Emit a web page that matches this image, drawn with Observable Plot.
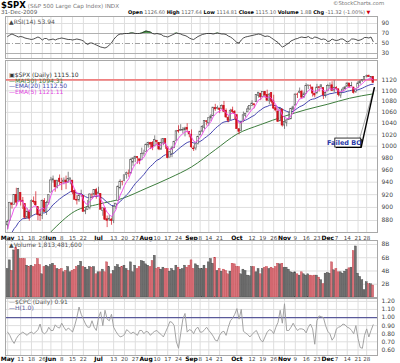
<!DOCTYPE html>
<html><head><meta charset="utf-8">
<script src="https://cdn.jsdelivr.net/npm/d3@7"></script>
<script src="https://cdn.jsdelivr.net/npm/@observablehq/plot@0.6"></script>
<style>
body{margin:0;background:#fff;}
#c{position:relative;width:400px;height:363px;overflow:hidden;font-family:"DejaVu Sans",Verdana,sans-serif;background:#fff;}
#c svg{position:absolute;left:0;}
.t{position:absolute;white-space:nowrap;line-height:1;font-size:6px;color:#555;}
.t b{color:#000;}
</style></head><body><div id="c"></div>
<script>
// ---- data (S&P 500, 1 May 2009 - 31 Dec 2009, daily) ----
const tickDays = [0,6,11,16,20,25,30,35,42,49,54,59,64,69,74,79,85,89,93,98,106,113,118,123,128,133,138,143,148,152,157,162,166];
const tickLabels = ["May","11","18","26","Jun","8","15","22","Jul","13","20","27","Aug","10","17","24","Sep","8","14","21","Oct","12","19","26","Nov","9","16","23","Dec","7","14","21","28"];
const prevClose = 872.81;
const opens = [872.7,879.2,906.1,903.9,919.6,909.0,922.9,910.5,905.4,884.2,
892.8,886.1,909.7,908.6,900.4,888.7,887.0,909.9,892.9,907.0,
923.3,942.9,942.5,932.5,945.7,938.1,940.4,942.7,939.0,943.4,
942.5,925.6,911.9,910.9,919.9,918.1,893.5,896.3,899.5,918.8,
919.9,927.2,920.8,921.2,894.3,898.6,881.9,881.3,881.3,879.6,
900.8,910.1,930.2,940.6,942.1,951.9,953.4,954.1,972.2,978.6,
981.5,977.7,976.0,986.8,990.2,1001.4,1005.4,1005.4,999.8,1008.9,
1005.8,994.0,1005.9,1012.2,998.2,980.6,986.9,996.4,1009.1,1026.6,
1026.6,1027.4,1027.8,1031.6,1025.2,1019.5,996.1,996.1,1003.8,1018.7,
1025.4,1032.2,1043.9,1040.2,1049.0,1053.0,1067.9,1066.6,1067.1,1066.4,
1072.0,1062.6,1049.5,1045.4,1063.7,1061.0,1054.9,1029.7,1026.9,1042.0,
1053.6,1060.0,1065.3,1071.6,1074.9,1078.7,1090.4,1094.7,1088.2,1097.9,
1091.9,1080.9,1095.6,1080.4,1067.5,1061.5,1043.7,1065.4,1036.2,1040.9,
1047.3,1047.3,1064.9,1072.3,1091.9,1096.0,1098.3,1087.6,1094.1,1109.2,
1109.4,1106.4,1094.7,1094.8,1106.8,1106.5,1105.5,1091.1,1098.9,1109.0,
1110.6,1100.6,1105.5,1103.0,1091.1,1098.7,1103.1,1107.8,1114.1,1108.6,
1106.4,1097.9,1105.3,1114.5,1118.8,1121.1,1127.5,1128.6,1125.5,1126.6];
const highs = [880.5,907.9,907.7,920.3,930.2,930.0,922.9,915.6,905.4,898.4,
896.0,911.8,916.4,924.6,900.4,896.7,911.8,913.8,909.5,920.0,
947.8,950.0,942.5,942.5,951.7,946.3,946.9,949.8,956.2,946.3,
942.5,928.0,918.4,921.9,927.1,918.1,898.7,910.9,921.4,922.0,
927.9,930.0,931.9,921.2,898.7,898.6,886.8,887.9,883.6,901.1,
905.8,933.9,943.9,941.9,951.6,956.5,959.8,979.4,979.8,982.5,
982.4,977.8,996.7,993.2,1003.6,1007.1,1006.6,1008.0,1018.0,1010.1,
1005.8,1012.8,1013.1,1012.6,998.2,991.2,999.6,1008.9,1027.6,1035.8,
1037.8,1032.5,1033.3,1039.5,1025.2,1028.5,1000.3,1003.4,1017.6,1026.1,
1036.3,1044.1,1044.7,1049.7,1056.0,1068.8,1074.8,1071.5,1067.3,1073.8,
1080.2,1066.3,1053.5,1065.6,1069.6,1063.4,1054.9,1030.6,1042.6,1060.6,
1058.0,1070.7,1071.5,1081.4,1075.3,1093.2,1096.6,1094.7,1098.1,1098.4,
1101.4,1095.2,1095.8,1091.8,1072.5,1063.3,1066.8,1065.4,1052.2,1046.4,
1061.0,1066.7,1071.5,1094.0,1095.8,1105.4,1101.0,1097.6,1113.7,1110.5,
1111.1,1106.4,1094.7,1112.4,1107.6,1111.2,1105.5,1097.2,1112.3,1115.0,
1117.3,1119.1,1107.9,1103.0,1097.0,1106.2,1108.4,1114.8,1114.1,1116.2,
1106.4,1103.7,1117.7,1118.5,1121.6,1126.5,1130.4,1130.4,1126.6,1127.6];
const lows = [866.1,879.2,897.3,903.9,901.4,909.0,902.2,896.8,882.0,882.5,
878.9,886.1,905.2,901.4,879.6,878.9,881.5,891.9,887.6,903.6,
923.3,938.4,923.9,929.3,934.1,926.4,935.7,927.9,939.0,935.7,
919.7,911.6,903.8,907.9,915.8,893.0,888.9,896.3,896.3,913.0,
916.2,912.9,920.8,896.4,886.4,879.9,869.3,878.5,872.8,875.3,
896.5,910.1,927.5,934.0,940.9,944.9,947.9,953.3,965.9,972.3,
969.4,968.7,976.0,982.9,990.2,996.7,994.3,992.4,999.8,1000.7,
992.4,993.4,1000.8,994.6,978.5,980.6,980.6,996.4,1009.1,1022.5,
1026.2,1021.6,1016.2,1023.1,1014.6,996.3,991.0,992.3,1001.9,1018.7,
1023.0,1028.9,1035.6,1035.0,1043.4,1052.9,1061.8,1064.3,1057.5,1066.4,
1060.4,1049.0,1041.2,1045.4,1057.8,1046.5,1029.4,1019.9,1025.9,1042.0,
1050.0,1060.0,1063.0,1071.6,1066.7,1078.7,1086.4,1081.5,1086.8,1086.2,
1080.8,1074.3,1075.5,1065.2,1060.6,1042.2,1043.7,1033.4,1029.4,1033.9,
1045.2,1047.3,1059.3,1072.3,1085.6,1094.6,1085.0,1085.3,1094.1,1102.2,
1102.7,1088.3,1086.8,1094.8,1097.6,1104.8,1083.7,1086.3,1098.9,1104.0,
1098.7,1096.5,1100.2,1088.6,1085.9,1098.7,1101.3,1107.8,1105.4,1107.9,
1093.9,1095.0,1105.3,1111.4,1116.0,1121.1,1124.7,1126.0,1121.9,1114.8];
const closes = [877.52,907.24,903.80,919.53,907.39,929.23,909.24,908.35,883.92,893.07,
882.88,909.71,908.13,903.47,888.33,887.00,910.33,893.06,906.83,919.14,
942.87,944.74,931.76,942.46,940.09,939.14,942.43,939.15,944.89,946.21,
923.72,911.97,910.71,918.37,921.23,893.04,895.10,900.94,920.26,918.90,
927.23,919.32,923.33,896.42,898.72,881.03,879.56,882.68,879.13,901.05,
905.84,932.68,940.74,940.38,951.13,954.58,954.07,976.29,979.26,982.18,
979.62,975.15,986.75,987.48,1002.63,1005.65,1002.72,997.08,1010.48,1007.10,
994.35,1005.81,1012.73,1004.09,979.73,989.67,996.46,1007.37,1026.13,1025.57,
1028.00,1028.12,1030.98,1028.93,1020.62,998.04,994.75,1003.24,1016.40,1025.39,
1033.37,1044.14,1042.73,1049.34,1052.63,1068.76,1065.49,1068.30,1064.66,1071.66,
1060.87,1050.78,1044.38,1062.98,1060.61,1057.08,1029.85,1025.21,1040.46,1054.72,
1057.58,1065.48,1071.49,1076.19,1073.19,1092.02,1096.56,1087.68,1097.91,1091.06,
1081.40,1092.91,1079.60,1066.95,1063.41,1042.63,1066.11,1036.19,1042.88,1045.41,
1046.50,1066.63,1069.30,1093.08,1093.01,1098.51,1087.24,1093.48,1109.30,1110.32,
1109.80,1094.90,1091.38,1106.24,1105.65,1110.63,1091.49,1095.63,1108.86,1109.24,
1099.92,1105.98,1103.25,1091.94,1095.95,1102.35,1106.41,1114.11,1107.93,1109.18,
1096.08,1102.47,1114.05,1118.02,1120.59,1126.48,1127.78,1126.20,1126.42,1115.10];
const ema5 = [867.2,880.5,888.3,898.7,901.6,910.8,910.3,909.7,901.1,898.4,
893.2,898.7,901.8,902.4,897.7,894.1,899.5,897.4,900.5,906.7,
918.8,927.4,928.9,933.4,935.6,936.8,938.7,938.9,940.9,942.7,
936.4,928.2,922.4,921.1,921.1,911.7,906.2,904.4,909.7,912.8,
917.6,918.2,919.9,912.1,907.6,898.7,892.3,889.1,885.8,890.9,
895.9,908.2,919.0,926.1,934.4,941.1,945.4,955.7,963.6,969.8,
973.1,973.8,978.1,981.2,988.3,994.1,997.0,997.0,1001.5,1003.4,
1000.4,1002.2,1005.7,1005.2,996.7,994.4,995.1,999.2,1008.2,1014.0,
1018.7,1021.8,1024.9,1026.2,1024.3,1015.6,1008.7,1006.9,1010.1,1015.2,
1021.2,1028.8,1033.4,1038.7,1043.3,1051.8,1056.4,1060.4,1061.8,1065.1,
1063.7,1059.4,1054.4,1057.3,1058.4,1058.0,1048.6,1040.8,1040.7,1045.4,
1049.5,1054.8,1060.4,1065.7,1068.2,1076.1,1082.9,1084.5,1089.0,1089.7,
1086.9,1088.9,1085.8,1079.5,1074.1,1063.6,1064.4,1055.0,1051.0,1049.1,
1048.2,1054.3,1059.3,1070.6,1078.1,1084.9,1085.7,1088.3,1095.3,1100.3,
1103.5,1100.6,1097.5,1100.4,1102.2,1105.0,1100.5,1098.9,1102.2,1104.5,
1103.0,1104.0,1103.8,1099.8,1098.5,1099.8,1102.0,1106.0,1106.7,1107.5,
1103.7,1103.3,1106.9,1110.6,1113.9,1118.1,1121.3,1123.0,1124.1,1121.1];
const ema20 = [852.6,857.8,862.2,867.7,871.5,877.0,880.1,882.8,882.9,883.9,
883.8,886.3,888.4,889.8,889.7,889.4,891.4,891.6,893.0,895.5,
900.0,904.3,906.9,910.3,913.1,915.6,918.2,920.2,922.5,924.8,
924.7,923.5,922.3,921.9,921.8,919.1,916.8,915.3,915.8,916.1,
917.1,917.3,917.9,915.9,914.2,911.0,908.0,905.6,903.1,902.9,
903.2,906.0,909.3,912.3,916.0,919.7,923.0,928.0,932.9,937.6,
941.6,944.8,948.8,952.5,957.3,961.9,965.8,968.8,972.8,976.1,
977.8,980.5,983.6,985.5,985.0,985.4,986.5,988.5,992.1,995.3,
998.4,1001.2,1004.0,1006.4,1007.8,1006.9,1005.7,1005.5,1006.5,1008.3,
1010.7,1013.9,1016.6,1019.7,1022.8,1027.2,1030.8,1034.4,1037.3,1040.6,
1042.5,1043.3,1043.4,1045.3,1046.7,1047.7,1046.0,1044.0,1043.7,1044.7,
1045.9,1047.8,1050.1,1052.6,1054.5,1058.1,1061.8,1064.3,1067.5,1069.7,
1070.8,1072.9,1073.6,1073.0,1072.0,1069.2,1068.9,1065.8,1063.6,1061.9,
1060.4,1061.0,1061.8,1064.8,1067.5,1070.4,1072.0,1074.1,1077.4,1080.5,
1083.3,1084.4,1085.1,1087.1,1088.9,1090.9,1091.0,1091.4,1093.1,1094.6,
1095.1,1096.1,1096.8,1096.3,1096.3,1096.9,1097.8,1099.3,1100.1,1101.0,
1100.5,1100.7,1102.0,1103.5,1105.1,1107.1,1109.1,1110.7,1112.2,1112.5];
const sma50Days = [0,10,20,31,42,53,64,75,85,96,106,117,128,138,148,158,169];
const sma50 = [797,828,863,894,905,914,930,947,965,994,1021,1038,1053,1065,1075,1086,1094.3];
const volumesB = [4.3,5.6,4.0,7.1,7.5,7.2,5.8,5.8,5.8,4.8,
4.6,4.8,4.6,4.9,5.8,4.9,3.5,4.6,4.8,4.6,
4.9,5.1,4.8,4.3,4.2,4.3,3.8,4.0,4.6,3.8,
4.0,4.2,4.6,4.8,5.4,4.6,4.5,4.2,4.6,4.5,
4.6,3.5,3.8,3.8,4.2,3.8,5.3,4.6,3.5,4.0,
4.6,4.9,4.5,4.6,4.8,4.3,4.0,5.3,3.8,4.8,
4.3,4.6,5.5,5.4,5.0,4.8,4.6,5.5,6.3,4.3,
4.5,4.2,4.5,4.3,4.3,3.9,4.3,4.0,4.8,4.5,
4.2,4.3,4.8,4.5,4.8,5.6,4.3,5.0,4.8,4.3,
4.3,4.8,4.3,5.3,5.8,5.1,6.0,4.0,4.3,3.9,
4.2,4.0,3.5,3.9,5.1,5.0,4.6,4.6,3.5,4.2,
4.0,3.3,3.2,4.6,4.6,3.8,4.3,3.5,4.3,4.5,
4.6,4.3,4.5,4.3,4.6,5.1,5.0,5.1,4.5,4.5,
4.2,3.8,3.7,3.8,3.5,3.3,3.8,3.5,3.3,3.5,
3.3,3.2,3.3,3.3,3.0,2.6,2.0,3.6,3.7,3.6,
5.3,4.1,4.3,3.8,3.8,3.6,3.9,4.2,4.4,4.5,
7.0,7.7,3.6,3.1,2.6,1.1,2.3,2.0,2.0,1.81];
const rsi14 = [64,67,69,67,65,63,64,63,61,60,
59,58,59,61,63,61,57,60,60,57,
58,59,57,59,60,61,60,59,58,58,
57,58,59,58,57,55,51,48,51,51,
49,47,45,43,42,41,43,47,51,58,
63,67,69,69,70,70,70,71,71,70,
70,70,71,73,75,74,73,70,69,70,
69,68,65,64,63,65,67,69,71,70,
69,67,66,64,61,59,58,61,64,66,
68,69,70,70,70,69,70,71,70,69,
69,68,65,63,60,56,52,51,57,61,
63,64,65,66,67,68,69,68,66,64,
65,64,61,58,55,52,47,43,45,48,
51,55,57,59,60,62,63,62,62,64,
61,60,63,62,60,58,59,58,54,55,
59,57,56,57,59,59,56,53,55,59,
59,58,56,57,59,62,62,61,63,53.94];
const cpc = [0.82,0.78,0.72,0.68,0.74,0.78,0.80,0.82,0.80,0.78,
0.81,0.82,0.80,0.82,0.85,0.92,0.82,0.80,0.82,0.88,
0.84,0.84,0.91,0.88,0.87,0.93,0.88,0.84,0.87,0.85,
0.82,0.90,1.00,1.13,1.04,0.98,0.92,0.88,0.88,0.96,
0.88,0.84,1.00,1.07,0.90,1.09,0.98,0.96,1.04,0.88,
0.83,0.79,0.76,0.77,0.79,0.85,0.83,0.80,0.82,0.80,
0.78,0.84,0.84,0.80,0.83,0.82,0.78,0.81,0.83,0.84,
0.81,0.79,0.76,0.82,0.88,0.95,0.94,0.90,0.70,0.62,
0.80,0.98,1.05,0.82,0.85,0.84,0.80,0.86,0.88,0.82,
0.82,0.85,0.88,0.84,0.81,0.77,0.72,0.71,0.78,0.82,
0.83,0.78,0.88,0.96,0.99,1.04,1.11,0.98,1.10,0.83,
0.81,0.79,0.76,0.79,0.82,0.84,0.78,0.72,0.70,0.76,
0.82,0.85,0.84,0.80,0.88,0.94,1.09,0.93,1.17,0.84,
0.84,0.88,0.93,0.88,0.84,0.86,0.86,0.85,0.81,0.88,
0.92,0.86,0.67,0.96,1.02,1.01,1.00,0.90,0.83,0.80,
0.72,0.76,0.86,0.88,0.89,0.92,0.91,0.88,0.87,0.84,
0.80,0.90,0.74,0.63,0.62,0.78,0.86,0.76,0.84,0.91];
const priceTicks = [880,900,920,940,960,980,1000,1020,1040,1060,1080,1100,1120];
const rsiTicks = [30,50,70,90];
const volTicks = [2,4,6,8];
const cpcTicks = [0.6,0.7,0.8,0.9,1.0,1.1,1.2];
const resistance = [1121];
const cpcRef = [1.0];
const note = {label:"Failed BO", day:155.7, price:1005.5, boxDay1:151.5, boxDay2:163.5, boxP1:997.8, boxP2:1013.3,
  fromDay:163.5, fromP:999, fromDay2:162.7, fromP2:1013, tipDay:169.6, tipP:1107};

// ---- build ----
const c = document.getElementById("c");
const days = closes.map((cl,i)=>({i, o:opens[i], h:highs[i], l:lows[i], c:cl, v:volumesB[i],
  prev: i ? closes[i-1] : prevClose, e5:ema5[i], e20:ema20[i], r:rsi14[i], p:cpc[i]}));
days.forEach(d=>{ d.down = d.c < d.prev; d.col = d.down ? "#d0101c" : "#555"; d.fillc = d.c < d.o ? d.col : "#fff";});
const smaData = sma50Days.map((d,k)=>({i:d, v:sma50[k]}));
const ticks = tickDays.map((d,k)=>({day:d, label:tickLabels[k], month:/^[A-Z]/.test(tickLabels[k])}));
const GRID = "#dedede";
const FRAME = "#a8a8a8";
const xDomain = [-1, 171];
const base = {width:400, marginLeft:5, marginRight:23, marginTop:0, marginBottom:0,
  style:{background:"transparent", fontFamily:"DejaVu Sans, sans-serif", fontSize:"6px", color:"#444", overflow:"visible"}};
function place(svg, top){ svg.style.top = top + "px"; c.appendChild(svg); return svg; }
// right-hand tick labels drawn as text in the right margin
const rightLabels = (vals, fmt) => Plot.text(vals, {y:d=>d, text:fmt, frameAnchor:"right", dx:4, textAnchor:"start", fill:"#444", fontSize:6});

// RSI panel
place(Plot.plot({...base, height:42,
  x:{domain:xDomain, axis:null},
  y:{domain:[20,104], axis:null},
  marks:[
    Plot.ruleX(tickDays,{stroke:GRID}),
    Plot.ruleY([90],{stroke:GRID}),
    Plot.ruleY([30,70],{stroke:"#b0b0b0"}),
    Plot.ruleY([50],{stroke:"#a0a0a0", strokeDasharray:"5,2,1,2"}),
    Plot.areaY(days,{x:"i", y1:70, y2:d=>Math.max(70,d.r), fill:"#4f9a4f"}),
    Plot.lineY(days,{x:"i", y:"r", stroke:"#222", strokeWidth:0.8}),
    Plot.frame({stroke:FRAME}),
    rightLabels(rsiTicks, d=>String(d))
  ]}), 16);

// price panel
place(Plot.plot({...base, height:172,
  x:{domain:xDomain, axis:null},
  y:{type:"log", domain:[862,1159], axis:null},
  marks:[
    Plot.ruleX(tickDays,{stroke:GRID}),
    Plot.ruleY(priceTicks,{stroke:GRID}),
    Plot.line(smaData,{x:"i", y:"v", stroke:"#3d7d3d", strokeWidth:1, curve:"monotone-x", clip:true}),
    Plot.line(days,{x:"i", y:"e20", stroke:"#4646b0", strokeWidth:1, clip:true}),
    Plot.ruleY(resistance,{stroke:"#f08080", strokeWidth:1.6}),
    Plot.ruleX(days,{x:"i", y1:"l", y2:"h", stroke:"col", strokeWidth:0.7}),
    Plot.rect(days,{x1:d=>d.i-0.34, x2:d=>d.i+0.34, y1:d=>Math.min(d.o,d.c), y2:d=>Math.max(d.o,d.c), fill:"fillc", stroke:"col", strokeWidth:0.6}),
    Plot.line(days,{x:"i", y:"e5", stroke:"#ee44ee", strokeWidth:0.9, clip:true}),
    Plot.link([note],{x1:"fromDay2", y1:"fromP2", x2:"tipDay", y2:"tipP", stroke:"#888", strokeWidth:0.7}),
    Plot.link([note],{x1:"fromDay", y1:"fromP", x2:"tipDay", y2:"tipP", stroke:"#000", strokeWidth:1.4}),
    Plot.rect([note],{x1:"boxDay1", x2:"boxDay2", y1:"boxP1", y2:"boxP2", fill:"#000", dx:1, dy:1}),
    Plot.rect([note],{x1:"boxDay1", x2:"boxDay2", y1:"boxP1", y2:"boxP2", fill:"#fff", stroke:"#000", strokeWidth:0.8}),
    Plot.text([note],{x:"day", y:"price", text:"label", fill:"#2a3aa8", fontSize:6.5, fontWeight:"bold"}),
    Plot.frame({stroke:FRAME}),
    rightLabels(priceTicks, d=>String(d))
  ]}), 60);

// tick label rows
function tickRow(top){
  return place(Plot.plot({...base, height:9,
    x:{domain:xDomain, axis:null}, y:{axis:null},
    marks:[
      Plot.text(ticks.filter(t=>t.month),{x:"day", text:"label", frameAnchor:"middle", fontWeight:"bold", fill:"#000", fontSize:6}),
      Plot.text(ticks.filter(t=>!t.month),{x:"day", text:"label", frameAnchor:"middle", fill:"#444", fontSize:5.5})
    ]}), top);
}
tickRow(232.5);

// volume panel
place(Plot.plot({...base, height:57,
  x:{domain:xDomain, axis:null},
  y:{domain:[0,8.6], axis:null},
  marks:[
    Plot.ruleX(tickDays,{stroke:GRID}),
    Plot.ruleY(volTicks,{stroke:GRID}),
    Plot.rect(days,{x1:d=>d.i-0.45, x2:d=>d.i+0.45, y1:0, y2:"v",
      fill:d=>d.down?"#d8737b":"#707070", stroke:d=>d.down?"#c03a42":"#444", strokeWidth:0.4}),
    Plot.frame({stroke:FRAME}),
    rightLabels(volTicks, d=>d+"B")
  ]}), 240);

// CPC panel
place(Plot.plot({...base, height:57,
  x:{domain:xDomain, axis:null},
  y:{domain:[0.531,1.235], axis:null},
  marks:[
    Plot.ruleX(tickDays,{stroke:GRID}),
    Plot.ruleY(cpcTicks,{stroke:GRID}),
    Plot.ruleY(cpcRef,{stroke:"#5a5a9a", strokeWidth:1.2}),
    Plot.lineY(days,{x:"i", y:"p", stroke:"#9a9a9a", strokeWidth:0.9}),
    Plot.frame({stroke:FRAME}),
    rightLabels(cpcTicks, d3.format(".2f"))
  ]}), 298);

tickRow(354);

// ---- texts ----
function txt(html, x, y, extra){ const d=document.createElement("div"); d.className="t"; d.innerHTML=html; d.style.left=x+"px"; d.style.top=y+"px"; if(extra) Object.assign(d.style, extra); c.appendChild(d); return d; }
txt('<b style="font-size:8.5px">$SPX</b> <span style="font-size:5.6px;color:#777">(S&amp;P 500 Large Cap Index) INDX</span>', 1, 0.5);
txt('©StockCharts.com', 333, 0.5, {color:"#777", fontSize:"5.4px"});
txt('31-Dec-2009', 1, 9.5, {color:"#555", fontSize:"5.6px"});
txt('<b>Open</b> 1126.60 <b>High</b> 1127.64 <b>Low</b> 1114.81 <b>Close</b> 1115.10 <b>Volume</b> 1.8B <b>Chg</b> -11.32 (-1.00%) <span style="color:#d00010">▼</span>', 128, 9.8, {color:"#666", fontSize:"5px"});
txt('<span style="color:#444">▲</span>RSI(14) 53.94', 9, 18.5, {color:"#555"});
txt('<span style="color:#333">▣</span>$SPX (Daily) 1115.10', 9, 72, {color:"#333"});
txt('<span>—</span>MA(50) 1094.31', 9, 77.5, {color:"#3d7d3d"});
txt('<span>—</span>EMA(20) 1112.50', 9, 83, {color:"#4646b0"});
txt('<span>—</span>EMA(5) 1121.11', 9, 88.5, {color:"#e040e0"});
txt('<span style="color:#444">▲</span>Volume 1,813,481,600', 9, 241.5, {color:"#555"});
txt('<span style="color:#999">—</span>$CPC (Daily) 0.91', 9, 298.5, {color:"#555"});
txt('<span style="color:#5a5a9a">—</span>H(1.0)', 9, 304.5, {color:"#5a5a9a"});
</script></body></html>
